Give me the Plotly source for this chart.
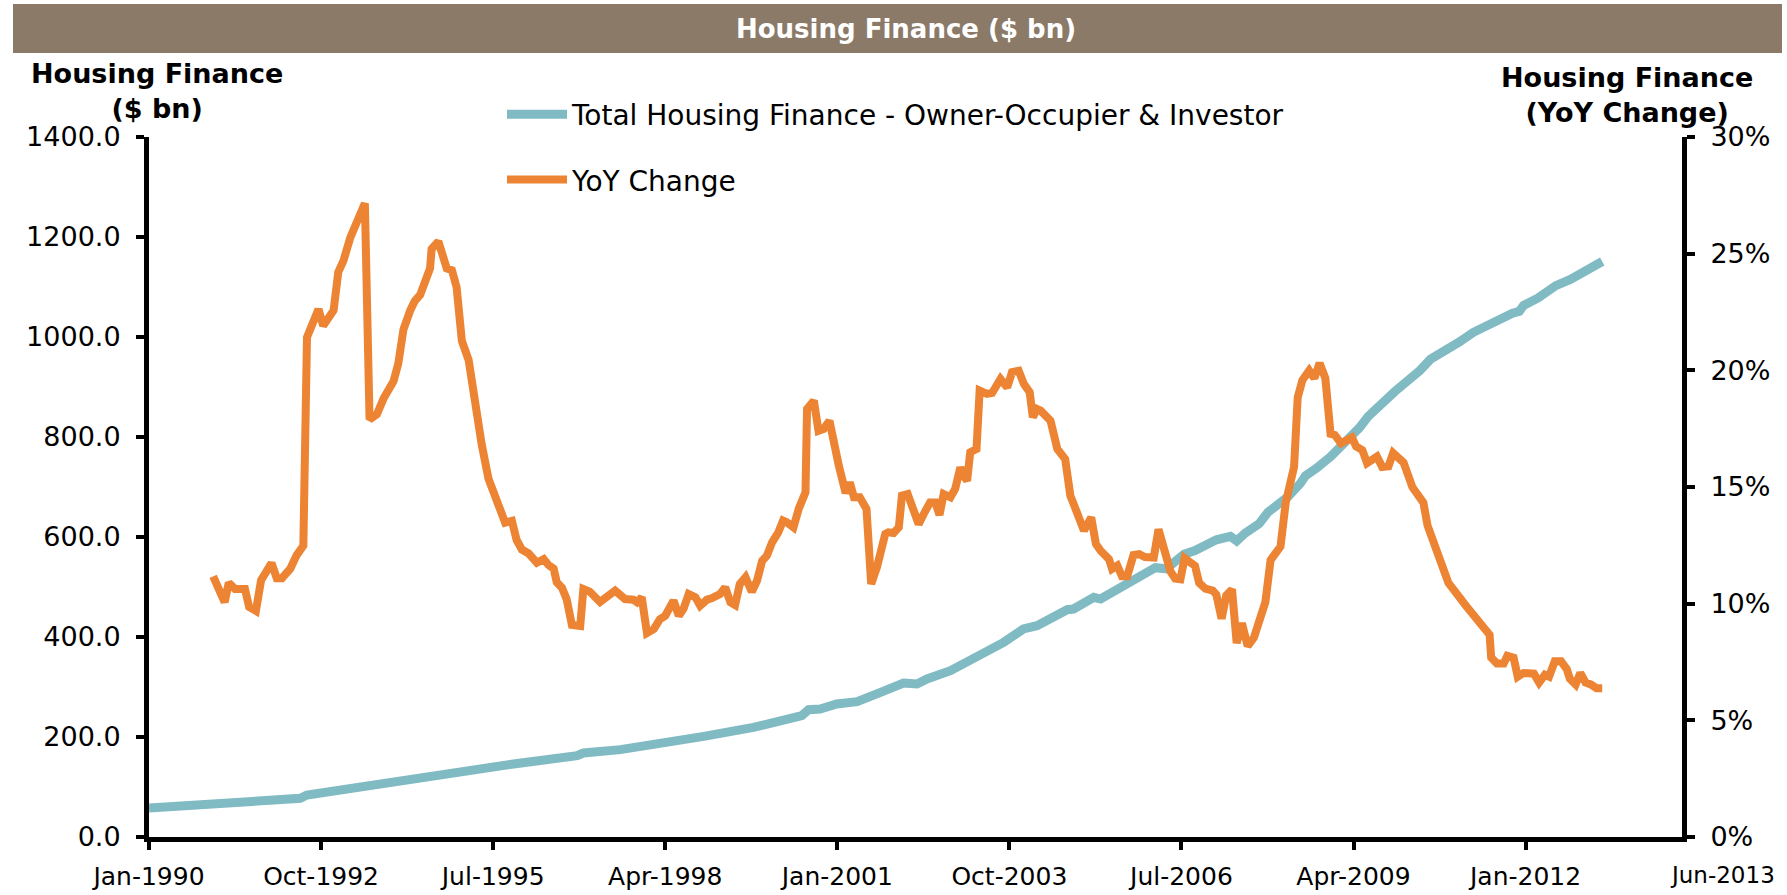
import plotly.graph_objects as go

# ---------------- data ----------------
# x positions are months elapsed since Jan-1990
tick_months = [0, 33, 66, 99, 132, 165, 198, 231, 264]
tick_labels = ["Jan-1990", "Oct-1992", "Jul-1995", "Apr-1998", "Jan-2001",
               "Oct-2003", "Jul-2006", "Apr-2009", "Jan-2012"]
end_label = "Jun-2013"

total_months = [0, 15.5, 29, 30.3, 44.3, 56.5, 60.3, 69.9, 82.1, 83.3, 90.4, 96.1,
                100, 106.4, 115.9, 122.3, 125.2, 126.5, 128.7, 131.9, 135.8, 140.3,
                144.7, 147.3, 149.2, 153.7, 156.2, 158.5, 163.9, 167.7, 170.3, 173.5,
                176.1, 177.3, 181.2, 182.5, 186.3, 190.1, 193, 195.1, 198.5, 200.6,
                204.7, 207.4, 208.6, 210.2, 212.9, 214.6, 218.4, 220.8, 221.8, 223.9,
                226.6, 232.1, 233.8, 238.9, 240.3, 243.7, 245.8, 248.5, 251.3, 254,
                256.7, 258.1, 261.5, 262.8, 263.6, 266.4, 269.8, 272.6, 276, 278.7]
total_bn = [58, 69.3, 77.3, 84, 106, 127.3, 134, 146, 162.7, 168, 174.7, 182.7,
            192.7, 201.3, 219.3, 234.7, 242.7, 254.7, 256, 266, 270.7, 289.3,
            308, 306, 316, 332.7, 349.3, 359.3, 389.3, 416, 422.7, 441.3,
            454.7, 456, 479.3, 476, 499.3, 524, 538.6, 536.4, 565.4, 573,
            594.4, 601.4, 592.2, 607.6, 626.6, 649.6, 680.2, 707, 722.4, 737.6,
            760.6, 818, 841, 890.8, 902.2, 932.8, 955.8, 971, 990.2, 1009.4,
            1024.6, 1028.4, 1047.6, 1051.4, 1063, 1078.2, 1102.8, 1115, 1135.6, 1151]

yoy_months = [12.3, 14.5, 15.3, 16.5, 18.4, 19.2, 20.5, 21.5, 23.5, 24.5, 25.5, 27.1,
              28.3, 29.6, 30.3, 31.2, 32.5, 33.4, 35.4, 36.3, 37.3, 38.6, 39.8, 41.4,
              42.3, 43.7, 45.0, 46.9, 47.8, 48.8, 50.1, 51.0, 52.0, 53.9, 54.2, 55.5,
              57.1, 58.1, 59.0, 60.0, 61.3, 62.9, 63.8, 65.1, 66.1, 67.3, 68.3, 69.6,
              70.5, 71.5, 72.8, 74.4, 75.7, 76.6, 77.6, 78.2, 79.2, 80.1, 81.1, 82.7,
              83.3, 84.5, 86.5, 89.4, 90.4, 91.3, 92.9, 93.6, 94.5, 95.5, 96.8, 98.0,
              99.0, 100.6, 101.6, 102.5, 103.5, 104.8, 105.7, 107.0, 107.9, 108.9, 109.5,
              110.5, 111.5, 112.4, 113.3, 114.4, 115.6, 116.6, 117.6, 118.5, 119.5, 120.7,
              121.6, 122.3, 123.6, 124.6, 125.9, 126.2, 127.5, 128.4, 129.4, 130.5, 131.3,
              132.3, 133.6, 134.4, 135.2, 136.3, 137.6, 138.5, 139.6, 141.2, 141.8, 142.8,
              143.8, 144.4, 145.5, 146.6, 147.6, 148.9, 149.8, 150.8, 151.6, 152.4, 153.7,
              154.6, 155.6, 156.2, 156.9, 157.5, 158.7, 159.3, 160.7, 161.7, 163.3, 164.6,
              165.5, 166.8, 167.8, 168.9, 169.5, 170.3, 171.0, 172.9, 174.2, 175.7, 176.7,
              177.7, 179.3, 180.7, 181.6, 182.5, 184.1, 184.7, 185.7, 186.6, 187.6, 188.8,
              189.9, 191.0, 192.7, 193.6, 195.1, 195.9, 196.8, 197.8, 198.6, 199.5, 200.6,
              201.4, 202.6, 204.0, 204.7, 205.7, 206.6, 207.7, 208.6, 209.6, 210.7, 211.9,
              212.9, 214.1, 215.1, 216.0, 217.0, 218.0, 218.7, 219.6, 220.3, 221.2, 222.5,
              223.5, 224.5, 225.6, 226.6, 227.4, 228.6, 230.7, 231.5, 232.7, 233.6, 235.5,
              236.5, 237.7, 238.6, 239.6, 240.6, 242.3, 243.4, 244.4, 245.2, 247.0, 248.2,
              249.2, 252.6, 253.7, 254.7, 257.1, 257.4, 258.5, 259.8, 260.5, 261.7, 262.5,
              263.6, 265.6, 266.6, 267.7, 268.5, 269.6, 270.8, 271.9, 272.5, 273.6, 274.5,
              275.5, 276.5, 277.6, 278.7]
yoy_pct = [11.17, 10.07, 10.89, 10.63, 10.63, 9.86, 9.69, 11.01, 11.74, 11.09, 11.09, 11.50,
           12.07, 12.48, 21.42, 21.91, 22.62, 21.91, 22.57, 24.21, 24.70, 25.69, 26.34, 27.16,
           17.90, 18.11, 18.80, 19.53, 20.28, 21.75, 22.57, 22.98, 23.23, 24.37, 25.20, 25.52,
           24.37, 24.29, 23.55, 21.26, 20.44, 17.98, 16.83, 15.36, 14.78, 13.88, 13.47, 13.55,
           12.73, 12.32, 12.15, 11.75, 11.91, 11.66, 11.50, 10.92, 10.68, 10.19, 9.09, 9.04,
           10.63, 10.52, 10.07, 10.56, 10.40, 10.20, 10.17, 10.06, 10.27, 8.74, 8.91, 9.34,
           9.48, 10.13, 9.48, 9.77, 10.41, 10.27, 9.91, 10.17, 10.23, 10.37, 10.41,
           10.70, 10.06, 9.94, 10.84, 11.13, 10.51, 10.98, 11.84, 12.06, 12.63, 13.06,
           13.56, 13.49, 13.27, 14.06, 14.77, 18.34, 18.70, 17.41, 17.49, 17.84, 16.84,
           15.91, 14.74, 15.20, 14.56, 14.56, 14.06, 10.84, 11.56, 12.99, 13.06, 13.03,
           13.27, 14.63, 14.70, 14.06, 13.41, 13.98, 14.34, 14.34, 13.80, 14.70, 14.56,
           14.91, 15.84, 15.48, 15.27, 16.49, 16.63, 19.13, 18.99, 19.03, 19.63, 19.27,
           19.92, 19.98, 19.41, 19.06, 17.99, 18.34, 18.27, 17.84, 16.63, 16.20, 14.63,
           14.06, 13.13, 13.70, 12.56, 12.27, 11.91, 11.49, 11.63, 11.17, 11.17, 12.08,
           12.12, 12.00, 11.98, 13.18, 11.79, 11.38, 11.08, 11.05, 11.95, 11.76, 11.62,
           10.89, 10.64, 10.56, 10.39, 9.36, 10.35, 10.61, 8.31, 9.16, 8.18, 8.54,
           9.16, 10.07, 11.87, 12.15, 12.45, 14.33, 15.15, 15.86, 18.84, 19.58, 19.99,
           19.66, 20.31, 19.66, 17.28, 17.23, 16.87, 17.12, 16.74, 16.58, 16.02, 16.30,
           15.86, 15.89, 16.46, 16.25, 16.05, 14.99, 14.66, 14.33, 13.35, 12.28, 11.38,
           10.89, 9.90, 9.57, 9.41, 8.67, 7.69, 7.44, 7.44, 7.77, 7.69, 6.87,
           7.03, 7.00, 6.62, 6.95, 6.87, 7.53, 7.53, 7.20, 6.78, 6.54, 7.03,
           6.62, 6.54, 6.38, 6.38]

left_ticks = [0, 200, 400, 600, 800, 1000, 1200, 1400]
right_ticks = [0, 5, 10, 15, 20, 25, 30]
right_tick_labels = ["0%", "5%", "10%", "15%", "20%", "25%", "30%"]

# ---------------- styling ----------------
TEAL = "#80BAC3"
ORANGE = "#EC8434"
BAND = "#8C7A69"
FONT = "DejaVu Sans"
W, H = 1787, 895
L, R, T, B = 149, 105, 137, 58
PW, PH = W - L - R, H - T - B


def px_x(x):
    return (x - L) / PW


def px_y(y):
    return (H - B - y) / PH


fig = go.Figure()
fig.add_trace(go.Scatter(
    x=total_months, y=total_bn, mode="lines",
    name="Total Housing Finance - Owner-Occupier & Investor",
    line=dict(color=TEAL, width=9), legendgroup="a"))
fig.add_trace(go.Scatter(
    x=yoy_months, y=yoy_pct, mode="lines", name="YoY Change", yaxis="y2",
    line=dict(color=ORANGE, width=8), legendgroup="b"))

axis_common = dict(showline=True, linecolor="black", linewidth=5, ticks="outside",
                   tickwidth=4, ticklen=8, tickcolor="black", showgrid=False,
                   zeroline=False, automargin=False)

fig.update_layout(
    width=W, height=H,
    margin=dict(l=L, r=R, t=T, b=B, autoexpand=False),
    paper_bgcolor="white", plot_bgcolor="white",
    font=dict(family=FONT, size=27, color="black"),
    title=dict(text="<b>Housing Finance ($ bn)</b>", x=906 / W, xanchor="center",
               xref="container", yref="container", y=1 - 29 / H, yanchor="middle",
               font=dict(family=FONT, size=26, color="white")),
    xaxis=dict(range=[0, 294], tickvals=tick_months, ticktext=tick_labels,
               ticklabelstandoff=5,
               tickfont=dict(family=FONT, size=25, color="black"), **axis_common),
    yaxis=dict(range=[0, 1400], tickvals=left_ticks, tickformat=".1f",
               ticklabelstandoff=10,
               tickfont=dict(family=FONT, size=27, color="black"), **axis_common),
    yaxis2=dict(range=[0, 30], tickvals=right_ticks, ticktext=right_tick_labels,
                overlaying="y", side="right", ticklabelstandoff=10,
                tickfont=dict(family=FONT, size=27, color="black"), **axis_common),
    showlegend=True,
    legend=dict(xref="container", yref="container", x=502 / W, y=1 - 89.5 / H,
                xanchor="left", yanchor="top",
                orientation="v", traceorder="grouped", tracegroupgap=26,
                itemwidth=60, bgcolor="rgba(0,0,0,0)",
                font=dict(family=FONT, size=28, color="black")),
    shapes=[dict(type="rect", xref="paper", yref="paper", layer="below",
                 x0=px_x(13), x1=px_x(1782), y0=px_y(53), y1=px_y(4),
                 fillcolor=BAND, line=dict(width=0))],
    annotations=[
        dict(text="<b>Housing Finance<br>($ bn)</b>", xref="paper", yref="paper",
             x=px_x(157), y=px_y(91), xanchor="center", yanchor="middle",
             showarrow=False, font=dict(family=FONT, size=27, color="black")),
        dict(text="<b>Housing Finance<br>(YoY Change)</b>", xref="paper", yref="paper",
             x=px_x(1627), y=px_y(95), xanchor="center", yanchor="middle",
             showarrow=False, font=dict(family=FONT, size=27, color="black")),
        dict(text=end_label, xref="paper", yref="paper",
             x=px_x(1722), y=px_y(875), xanchor="center", yanchor="middle",
             showarrow=False, font=dict(family=FONT, size=23, color="black")),
    ],
)

fig.write_html("out.html", config={"displayModeBar": False},
               post_script="document.body.style.margin='0px';")
